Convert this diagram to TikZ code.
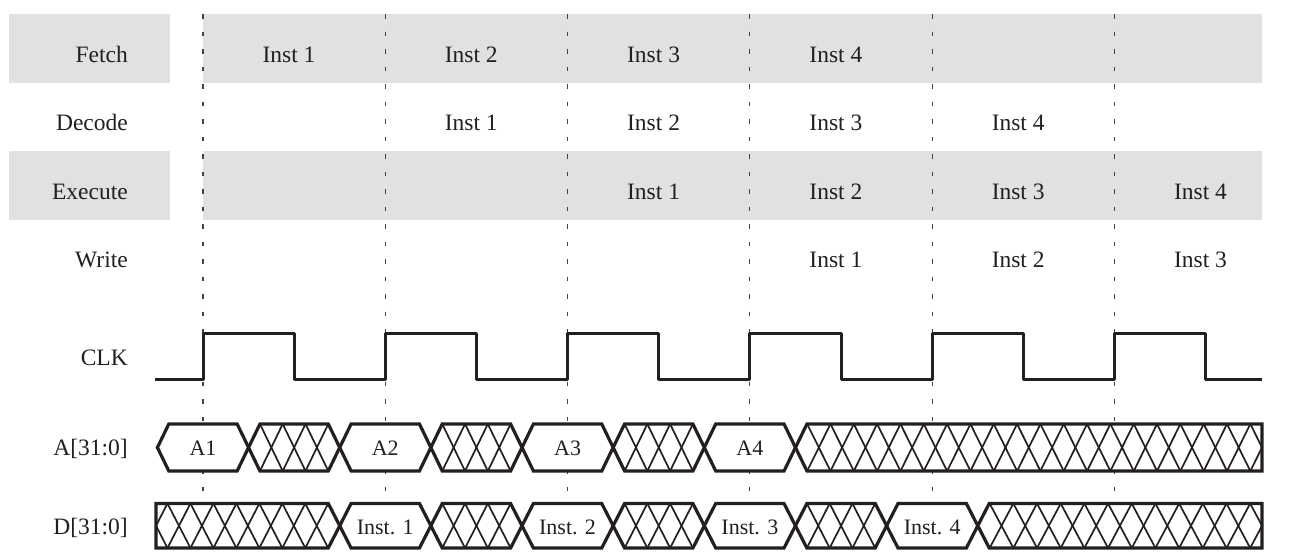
\documentclass[tikz,border=0pt]{standalone}
\usepackage{fontspec}
\setmainfont{Liberation Serif}

\definecolor{ink}{RGB}{35,31,32}
\definecolor{bandgrey}{RGB}{224,225,227}

% a field of a bus holding a value: left, right, text, name
\newcommand{\busvalue}[4]{%
  \draw[bus] (#1,\bmid) -- ({#1+\slant},\btop) -- ({#2-\slant},\btop) -- (#2,\bmid)
    -- ({#2-\slant},\bbot) -- ({#1+\slant},\bbot) -- cycle;
  \node[val] (#4) at ({(#1+#2)/2},\bbase) {#3};
}

% a crossed (don't care) field: left, right, left slant, right slant, crosses
\newcommand{\bushatch}[5]{%
  \pgfmathsetmacro\xs{(#2-#1)/#5}
  \fill[white] (#1,\bmid) -- ({#1+#3},\btop) -- ({#2-#4},\btop) -- (#2,\bmid)
    -- ({#2-#4},\bbot) -- ({#1+#3},\bbot) -- cycle;
  \begin{scope}
    \clip (#1,\bmid) -- ({#1+#3},\btop) -- ({#2-#4},\btop) -- (#2,\bmid)
      -- ({#2-#4},\bbot) -- ({#1+#3},\bbot) -- cycle;
    \foreach \k in {0,...,#5} {
      \draw[hatch] ({#1+\k*\xs-\xs/2},\btop) -- ({#1+\k*\xs+\xs/2},\bbot);
      \draw[hatch] ({#1+\k*\xs-\xs/2},\bbot) -- ({#1+\k*\xs+\xs/2},\btop);
    }
  \end{scope}
  \draw[bus,fill=none] (#1,\bmid) -- ({#1+#3},\btop) -- ({#2-#4},\btop) -- (#2,\bmid)
    -- ({#2-#4},\bbot) -- ({#1+#3},\bbot) -- cycle;
}

\begin{document}
\begin{tikzpicture}[x=1pt,y=-1pt]
        \tikzstyle{guide}=[ink!85, line width=1.1pt, dash pattern=on 4.5pt off 13pt]
        \tikzstyle{lbl}=[anchor=base east, inner sep=0pt, text=ink, font=\fontsize{23.5}{28}\selectfont]
        \tikzstyle{inst}=[anchor=base, inner sep=0pt, text=ink, font=\fontsize{23.5}{28}\selectfont]
        \tikzstyle{val}=[anchor=base, inner sep=0pt, text=ink, font=\fontsize{22}{26}\selectfont]
        \tikzstyle{wave}=[ink, line width=3pt, line join=round]
        \tikzstyle{bus}=[ink, line width=3.2pt, fill=white]
        \tikzstyle{hatch}=[ink, line width=1.7pt]

        \useasboundingbox (0,0) rectangle (1289,554);

        \edef\period{182.3}
        \edef\half{91.15}
        \edef\slant{11.4}

        % shaded stages
        \fill[bandgrey] (9,14) rectangle (170,82.5);
        \fill[bandgrey] (203,14) rectangle (1262,82.5);
        \fill[bandgrey] (9,151) rectangle (170,219.5);
        \fill[bandgrey] (203,151) rectangle (1262,219.5);

        \foreach \k in {0,...,5} {
            \draw[guide] ({203+\k*\period},14) -- ({203+\k*\period},552);
        };

        %label the rows
        \foreach \name/\y in {Fetch/62, Decode/130.5, Execute/199, Write/267.5, CLK/365.5} {
            \node[lbl] (\name) at (128,\y) {\name};
        };
        \node[lbl] (abus) at (128,455.5) {A[31:0]};
        \node[lbl] (dbus) at (128,534) {D[31:0]};

        \foreach \row/\y/\off/\n in {fetch/62/0/4, decode/130.5/1/4, execute/199/2/4, write/267.5/3/3} {
            \foreach \i in {1,...,\n} {
                \node[inst] (\row-\i) at ({203+(\i+\off-1)*\period+86},\y) {Inst \i};
            };
        };

        \draw[wave] (155,379) foreach \k in {0,...,5} {
            -- ({203+\k*\period},379) -- ({203+\k*\period},333)
            -- ({203+\k*\period+\half},333) -- ({203+\k*\period+\half},379) }
            -- (1262,379);

        % address bus
        \def\btop{424}\def\bbot{471}\def\bmid{447.5}\def\bbase{455.5}
        \foreach \j in {1,...,4} {
            \pgfmathsetmacro\xl{157.4+(\j-1)*\period}
            \pgfmathsetmacro\xr{\xl+\half}
            \busvalue{\xl}{\xr}{A\j}{a\j}
        };
        \foreach \j in {1,...,3} {
            \pgfmathsetmacro\xl{248.55+(\j-1)*\period}
            \pgfmathsetmacro\xr{\xl+\half}
            \bushatch{\xl}{\xr}{\slant}{\slant}{4}
        };
        \bushatch{795.5}{1262}{\slant}{0}{20}

        % data bus
        \def\btop{503.5}\def\bbot{548}\def\bmid{525.75}\def\bbase{534}
        \bushatch{156}{339.7}{0}{\slant}{8}
        \foreach \j in {1,...,4} {
            \pgfmathsetmacro\xl{339.7+(\j-1)*\period}
            \pgfmathsetmacro\xr{\xl+\half}
            \busvalue{\xl}{\xr}{Inst. \j}{d\j}
        };
        \foreach \j in {1,...,3} {
            \pgfmathsetmacro\xl{430.85+(\j-1)*\period}
            \pgfmathsetmacro\xr{\xl+\half}
            \bushatch{\xl}{\xr}{\slant}{\slant}{4}
        };
        \bushatch{977.8}{1262}{\slant}{0}{12}
\end{tikzpicture}
\end{document}
